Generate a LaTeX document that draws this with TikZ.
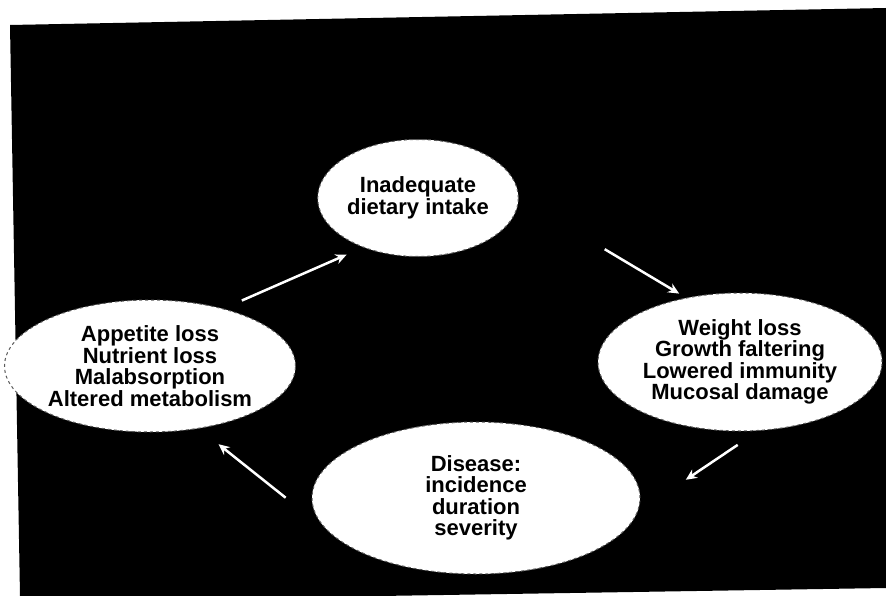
\documentclass[tikz,border=0pt]{standalone}
\usepackage{fontspec}
\setmainfont{Liberation Sans}
\usepackage{xcolor}
\usetikzlibrary{arrows.meta,shapes.geometric}
\definecolor{ScanBlack}{HTML}{000000}
\definecolor{ScanGrey}{HTML}{5A5A5A}

\begin{document}
\begin{tikzpicture}[
            x=1pt, y=-1pt,
            font=\bfseries\fontsize{22}{21.5}\selectfont,
            bubble/.style={
                    ellipse,
                    draw=ScanGrey,
                    dashed,
                    line width=1pt,
                    fill=white,
                    inner sep=0pt,
                    align=center
                },
            arrow/.style={-{Stealth[length=11pt,width=10pt]}, line width=2.5pt, draw=white},
        ]

        \useasboundingbox (0,0) rectangle (886,596);
        % scanned black page
        \fill[ScanBlack] (10,25) -- (886,8) -- (886,588) -- (380,596) -- (20,596) -- cycle;

        \node[bubble, minimum width=197pt, minimum height=117pt] (intake) at (418,198)
            {Inadequate\\dietary intake};

        \node[bubble, minimum width=291pt, minimum height=132pt] (loss) at (150,366)
            {Appetite loss\\Nutrient loss\\Malabsorption\\Altered metabolism};

        \node[bubble, minimum width=284pt, minimum height=138pt] (weight) at (740,362)
            {Weight loss\\Growth faltering\\Lowered immunity\\Mucosal damage};

        \node[bubble, minimum width=328pt, minimum height=152pt] (disease) at (476,498)
            {Disease:\\incidence\\duration\\severity};

        \draw[arrow, shorten <=20pt, shorten >=18pt] (loss.38) -- (intake.222);
        \draw[arrow, shorten <=100pt, shorten >=8pt] (intake.east) -- (weight.130);
        \draw[arrow, shorten <=25pt, shorten >=58pt] (weight.285) -- (disease.355);
        \draw[arrow, shorten <=55pt, shorten >=25pt] (disease.193) -- (loss.308);

    \end{tikzpicture}
\end{document}
